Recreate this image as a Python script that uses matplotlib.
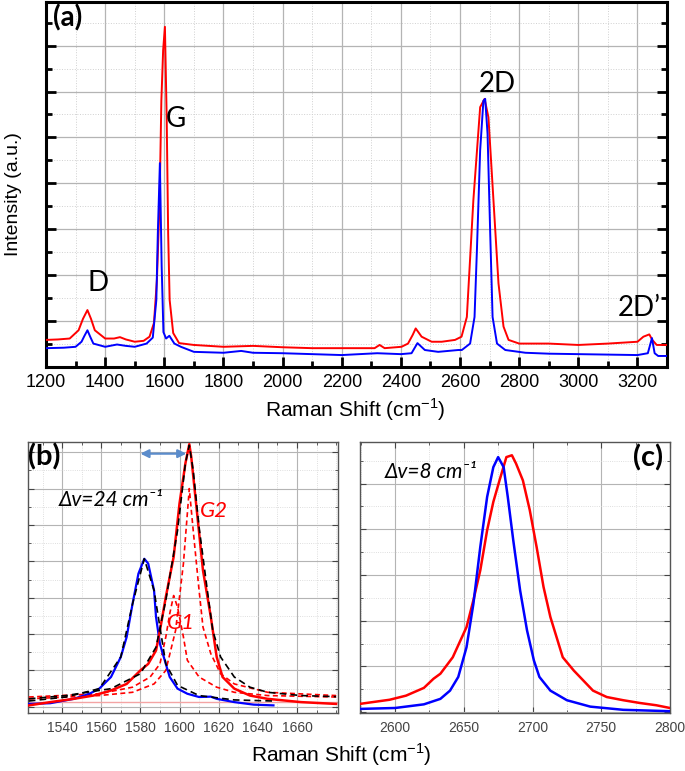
import matplotlib
matplotlib.use("Agg")
import matplotlib.pyplot as plt
from matplotlib.ticker import MultipleLocator

plt.rcParams['font.family'] = ['Liberation Sans', 'DejaVu Sans']
plt.rcParams['mathtext.fontset'] = 'custom'
plt.rcParams['mathtext.rm'] = 'Liberation Sans'

# ---- panel (a): full spectra ----
a_red_x = [1200, 1240, 1280, 1310, 1325, 1340, 1352, 1365, 1400, 1430, 1450, 1470, 1500, 1530,
           1550, 1565, 1575, 1584, 1590, 1596, 1602, 1608, 1613, 1618, 1630, 1650, 1700, 1800,
           1900, 2000, 2100, 2200, 2311, 2328, 2345, 2402, 2424, 2440, 2450, 2470, 2504, 2538,
           2583, 2605, 2623, 2645, 2668, 2683, 2696, 2713, 2730, 2747, 2764, 2800, 2900, 3000,
           3100, 3200, 3220, 3240, 3250, 3265, 3300]
a_red_y = [0.59, 0.60, 0.62, 0.80, 1.05, 1.24, 1.05, 0.80, 0.62, 0.62, 0.65, 0.60, 0.55, 0.57,
           0.66, 0.96, 1.90, 3.60, 5.80, 6.90, 7.41, 5.43, 2.90, 1.46, 0.74, 0.52, 0.48, 0.44,
           0.46, 0.43, 0.41, 0.41, 0.41, 0.48, 0.41, 0.44, 0.51, 0.70, 0.84, 0.66, 0.55, 0.55,
           0.59, 0.66, 1.09, 3.63, 5.66, 5.84, 5.44, 3.63, 1.82, 0.88, 0.59, 0.51, 0.51, 0.48,
           0.51, 0.55, 0.66, 0.71, 0.59, 0.48, 0.48]

a_blue_x = [1200, 1260, 1300, 1320, 1330, 1340, 1350, 1360, 1400, 1440, 1470, 1500, 1540, 1561,
            1573, 1578, 1585, 1591, 1597, 1606, 1617, 1634, 1656, 1700, 1800, 1860, 1900, 2000,
            2100, 2200, 2320, 2400, 2436, 2456, 2481, 2526, 2594, 2606, 2634, 2649, 2657, 2668,
            2679, 2685, 2693, 2702, 2710, 2725, 2753, 2821, 2900, 3000, 3100, 3200, 3235, 3249,
            3258, 3270, 3300]
a_blue_y = [0.41, 0.42, 0.44, 0.55, 0.68, 0.80, 0.65, 0.51, 0.44, 0.49, 0.46, 0.44, 0.51, 0.64,
            1.46, 2.90, 4.44, 2.20, 0.76, 0.62, 0.68, 0.51, 0.44, 0.33, 0.31, 0.35, 0.31, 0.30,
            0.28, 0.26, 0.30, 0.28, 0.30, 0.52, 0.37, 0.33, 0.37, 0.37, 0.51, 1.09, 2.54, 4.72,
            5.80, 5.84, 5.08, 2.91, 1.09, 0.51, 0.37, 0.31, 0.29, 0.28, 0.27, 0.26, 0.30, 0.63,
            0.30, 0.24, 0.24]

peak_names = ['D', 'G', '2D', '2D\u2019']
peak_label_x = [1375, 1638, 2725, 3206]
peak_label_y = [1.83, 5.41, 6.17, 1.29]

# ---- panel (b): G band ----
b_blue_x = [1523, 1534, 1546, 1554, 1559, 1565, 1570, 1573, 1576, 1579, 1582, 1584, 1587, 1588,
            1590, 1593, 1595, 1599, 1604, 1610, 1616, 1619, 1628, 1638, 1648]
b_blue_y = [0.08, 0.10, 0.22, 0.36, 0.50, 0.82, 1.37, 1.92, 2.83, 3.66, 4.07, 3.94, 3.20, 2.47,
            1.73, 1.18, 0.82, 0.50, 0.36, 0.27, 0.28, 0.22, 0.13, 0.06, 0.04]

b_red_x = [1523, 1534, 1546, 1556, 1565, 1573, 1580, 1584, 1588, 1590, 1593, 1597, 1600, 1603,
           1605, 1606, 1609, 1612, 1616, 1619, 1622, 1628, 1636, 1645, 1662, 1680]
b_red_y = [0.04, 0.13, 0.22, 0.31, 0.45, 0.63, 1.00, 1.18, 1.55, 2.10, 3.02, 4.12, 5.59, 6.69,
           7.22, 6.87, 5.31, 3.75, 2.47, 1.37, 0.82, 0.50, 0.31, 0.22, 0.13, 0.08]

b_fit_red_x = [1523, 1542, 1565, 1580, 1588, 1593, 1599, 1603, 1605, 1607, 1610, 1614, 1617, 1621,
               1628, 1636, 1645, 1662, 1680]
b_fit_red_y = [0.22, 0.31, 0.50, 0.91, 1.64, 2.93, 4.85, 6.69, 7.19, 6.50, 4.94, 3.29, 2.10, 1.37,
               0.82, 0.54, 0.40, 0.31, 0.28]

b_fit_blue_x = [1523, 1542, 1559, 1570, 1576, 1582, 1587, 1593, 1599, 1610, 1628, 1648]
b_fit_blue_y = [0.16, 0.27, 0.50, 1.37, 2.83, 4.07, 3.20, 1.18, 0.59, 0.31, 0.19, 0.16]

b_g1_x = [1523, 1559, 1576, 1585, 1590, 1593, 1595, 1597, 1599, 1602, 1604, 1610, 1619, 1628,
          1645, 1680]
b_g1_y = [0.27, 0.36, 0.54, 0.82, 1.18, 1.92, 2.56, 3.06, 2.74, 1.92, 1.28, 0.82, 0.54, 0.40,
          0.31, 0.27]

b_g2_x = [1523, 1559, 1576, 1587, 1593, 1598, 1602, 1605, 1607, 1610, 1612, 1616, 1621, 1628,
          1645, 1680]
b_g2_y = [0.22, 0.31, 0.40, 0.63, 1.00, 2.10, 3.94, 6.00, 4.85, 3.20, 2.19, 1.46, 0.91, 0.63,
          0.40, 0.31]

b_baseline = 0.13
b_shift = [1580, 1603.5]
b_arrow_y = 6.96

# ---- panel (c): 2D band ----
c_blue_x = [2574.5, 2600, 2621, 2633, 2640, 2646, 2652, 2657, 2662, 2667, 2671.5, 2675, 2679,
            2682, 2686, 2691, 2696, 2701, 2705, 2713, 2725, 2742, 2766, 2800]
c_blue_y = [0.07, 0.09, 0.17, 0.29, 0.47, 0.77, 1.42, 2.37, 3.61, 4.71, 5.36, 5.58, 5.36, 4.71,
            3.76, 2.66, 1.79, 1.13, 0.77, 0.47, 0.26, 0.12, 0.05, 0.02]

c_red_x = [2574.5, 2584, 2596, 2608, 2621, 2628, 2633, 2637.5, 2642, 2647, 2652, 2657, 2662,
           2667, 2671.5, 2676, 2681, 2685, 2688, 2693, 2698, 2703, 2708, 2713, 2717.5, 2722,
           2730, 2737, 2744, 2754, 2766, 2778, 2790, 2800]
c_red_y = [0.18, 0.22, 0.27, 0.36, 0.53, 0.73, 0.84, 1.02, 1.20, 1.53, 1.86, 2.45, 3.10, 3.98,
           4.60, 5.07, 5.58, 5.62, 5.44, 5.07, 4.42, 3.61, 2.74, 2.08, 1.64, 1.20, 0.91, 0.69,
           0.47, 0.33, 0.26, 0.20, 0.15, 0.09]

RED = '#ff0000'
BLUE = '#0000ff'
LABEL_FONT = ['Lato', 'DejaVu Sans']

fig = plt.figure(figsize=(6.85, 7.71), dpi=100)

# panel (a)
ax = fig.add_axes([0.0672, 0.524, 0.9066, 0.4734])
ax.plot(a_red_x, a_red_y, color=RED, lw=1.4, zorder=3)
ax.plot(a_blue_x, a_blue_y, color=BLUE, lw=1.4, zorder=4)
ax.set_xlim(1200, 3300)
ax.set_ylim(0, 7.95)
ax.xaxis.set_major_locator(MultipleLocator(200))
ax.xaxis.set_minor_locator(MultipleLocator(100))
ax.yaxis.set_major_locator(MultipleLocator(1))
ax.yaxis.set_minor_locator(MultipleLocator(0.5))
ax.grid(which='major', color='#b4b4b4', lw=0.9)
ax.grid(which='minor', color='#d0d0d0', lw=0.7, ls=':')
ax.set_axisbelow(True)
ax.tick_params(which='both', direction='in', left=True, right=True, bottom=True, top=False,
               labelleft=False, width=2, labelsize=13, pad=5)
ax.tick_params(which='major', length=7)
ax.tick_params(which='minor', length=4)
for s in ax.spines.values():
    s.set_linewidth(2.2)
for name, px, py in zip(peak_names, peak_label_x, peak_label_y):
    ax.text(px, py, name, fontsize=20, family=LABEL_FONT, ha='center', va='center')
ax.text(0.012, 0.995, '(a)', transform=ax.transAxes, fontsize=20, family=LABEL_FONT,
        weight='bold', ha='left', va='top')
fig.text(0.518, 0.468, 'Raman Shift (cm$^{-1}$)', fontsize=15, ha='center', va='center')
fig.text(0.020, 0.748, 'Intensity (a.u.)', fontsize=14, rotation=90, ha='center', va='center')


def style_small(axs):
    axs.grid(which='major', color='#b4b4b4', lw=0.8)
    axs.grid(which='minor', color='#d4d4d4', lw=0.6, ls=':')
    axs.set_axisbelow(True)
    axs.tick_params(which='both', direction='in', left=True, right=True, bottom=True, top=True,
                    labelleft=False, labelsize=10, colors='#444444', pad=6)
    axs.tick_params(which='major', length=4, width=0.8)
    axs.tick_params(which='minor', length=2.5, width=0.6)
    for s in axs.spines.values():
        s.set_linewidth(1.0)
        s.set_color('#555555')


# panel (b)
axb = fig.add_axes([0.0409, 0.0752, 0.4526, 0.3515])
axb.axhline(b_baseline, color='#f4a4a4', lw=1.0, zorder=2)
axb.plot(b_g1_x, b_g1_y, color=RED, lw=1.2, ls=(0, (3, 2)), zorder=3)
axb.plot(b_g2_x, b_g2_y, color=RED, lw=1.2, ls=(0, (3, 2)), zorder=3)
axb.plot(b_blue_x, b_blue_y, color=BLUE, lw=1.6, zorder=4)
axb.plot(b_red_x, b_red_y, color=RED, lw=1.8, zorder=4)
axb.plot(b_fit_red_x, b_fit_red_y, color='black', lw=1.2, ls=(0, (4, 2.5)), zorder=5)
axb.plot(b_fit_blue_x, b_fit_blue_y, color='black', lw=1.2, ls=(0, (4, 2.5)), zorder=5)
axb.annotate('', xy=(b_shift[1], b_arrow_y), xytext=(b_shift[0], b_arrow_y),
             arrowprops=dict(arrowstyle='<|-|>', color='#5b8ccb', lw=1.6, mutation_scale=12,
                             shrinkA=0, shrinkB=0))
axb.set_xlim(1522.6, 1681)
axb.set_ylim(-0.17, 7.28)
axb.set_xticks([1540, 1560, 1580, 1600, 1620, 1640, 1660])
axb.xaxis.set_minor_locator(MultipleLocator(10))
axb.yaxis.set_major_locator(MultipleLocator(1))
axb.yaxis.set_minor_locator(MultipleLocator(0.5))
style_small(axb)
axb.text(0.0, 0.995, '(b)', transform=axb.transAxes, fontsize=21, family=LABEL_FONT,
         weight='bold', ha='left', va='top')
axb.text(0.100, 0.786, '\u0394v=24 cm\u207b\u00b9', transform=axb.transAxes,
         fontsize=15, family=LABEL_FONT, style='italic', ha='left', va='center')
axb.text(0.555, 0.745, 'G2', transform=axb.transAxes, fontsize=16, family=LABEL_FONT,
         style='italic', color=RED, ha='left', va='center')
axb.text(0.448, 0.332, 'G1', transform=axb.transAxes, fontsize=16, family=LABEL_FONT,
         style='italic', color=RED, ha='left', va='center')

# panel (c)
axc = fig.add_axes([0.5255, 0.0752, 0.4526, 0.3515])
axc.plot(c_red_x, c_red_y, color=RED, lw=1.8, zorder=3)
axc.plot(c_blue_x, c_blue_y, color=BLUE, lw=1.8, zorder=4)
axc.set_xlim(2574.5, 2800)
axc.set_ylim(-0.02, 5.91)
axc.xaxis.set_major_locator(MultipleLocator(50))
axc.xaxis.set_minor_locator(MultipleLocator(25))
axc.yaxis.set_major_locator(MultipleLocator(1))
axc.yaxis.set_minor_locator(MultipleLocator(0.5))
style_small(axc)
axc.text(0.977, 0.99, '(c)', transform=axc.transAxes, fontsize=21, family=LABEL_FONT,
         weight='bold', ha='right', va='top')
axc.text(0.081, 0.889, '\u0394v=8 cm\u207b\u00b9', transform=axc.transAxes,
         fontsize=15, family=LABEL_FONT, style='italic', ha='left', va='center')

fig.text(0.498, 0.021, 'Raman Shift (cm$^{-1}$)', fontsize=15, ha='center', va='center')

fig.savefig('out.png', dpi=100)
